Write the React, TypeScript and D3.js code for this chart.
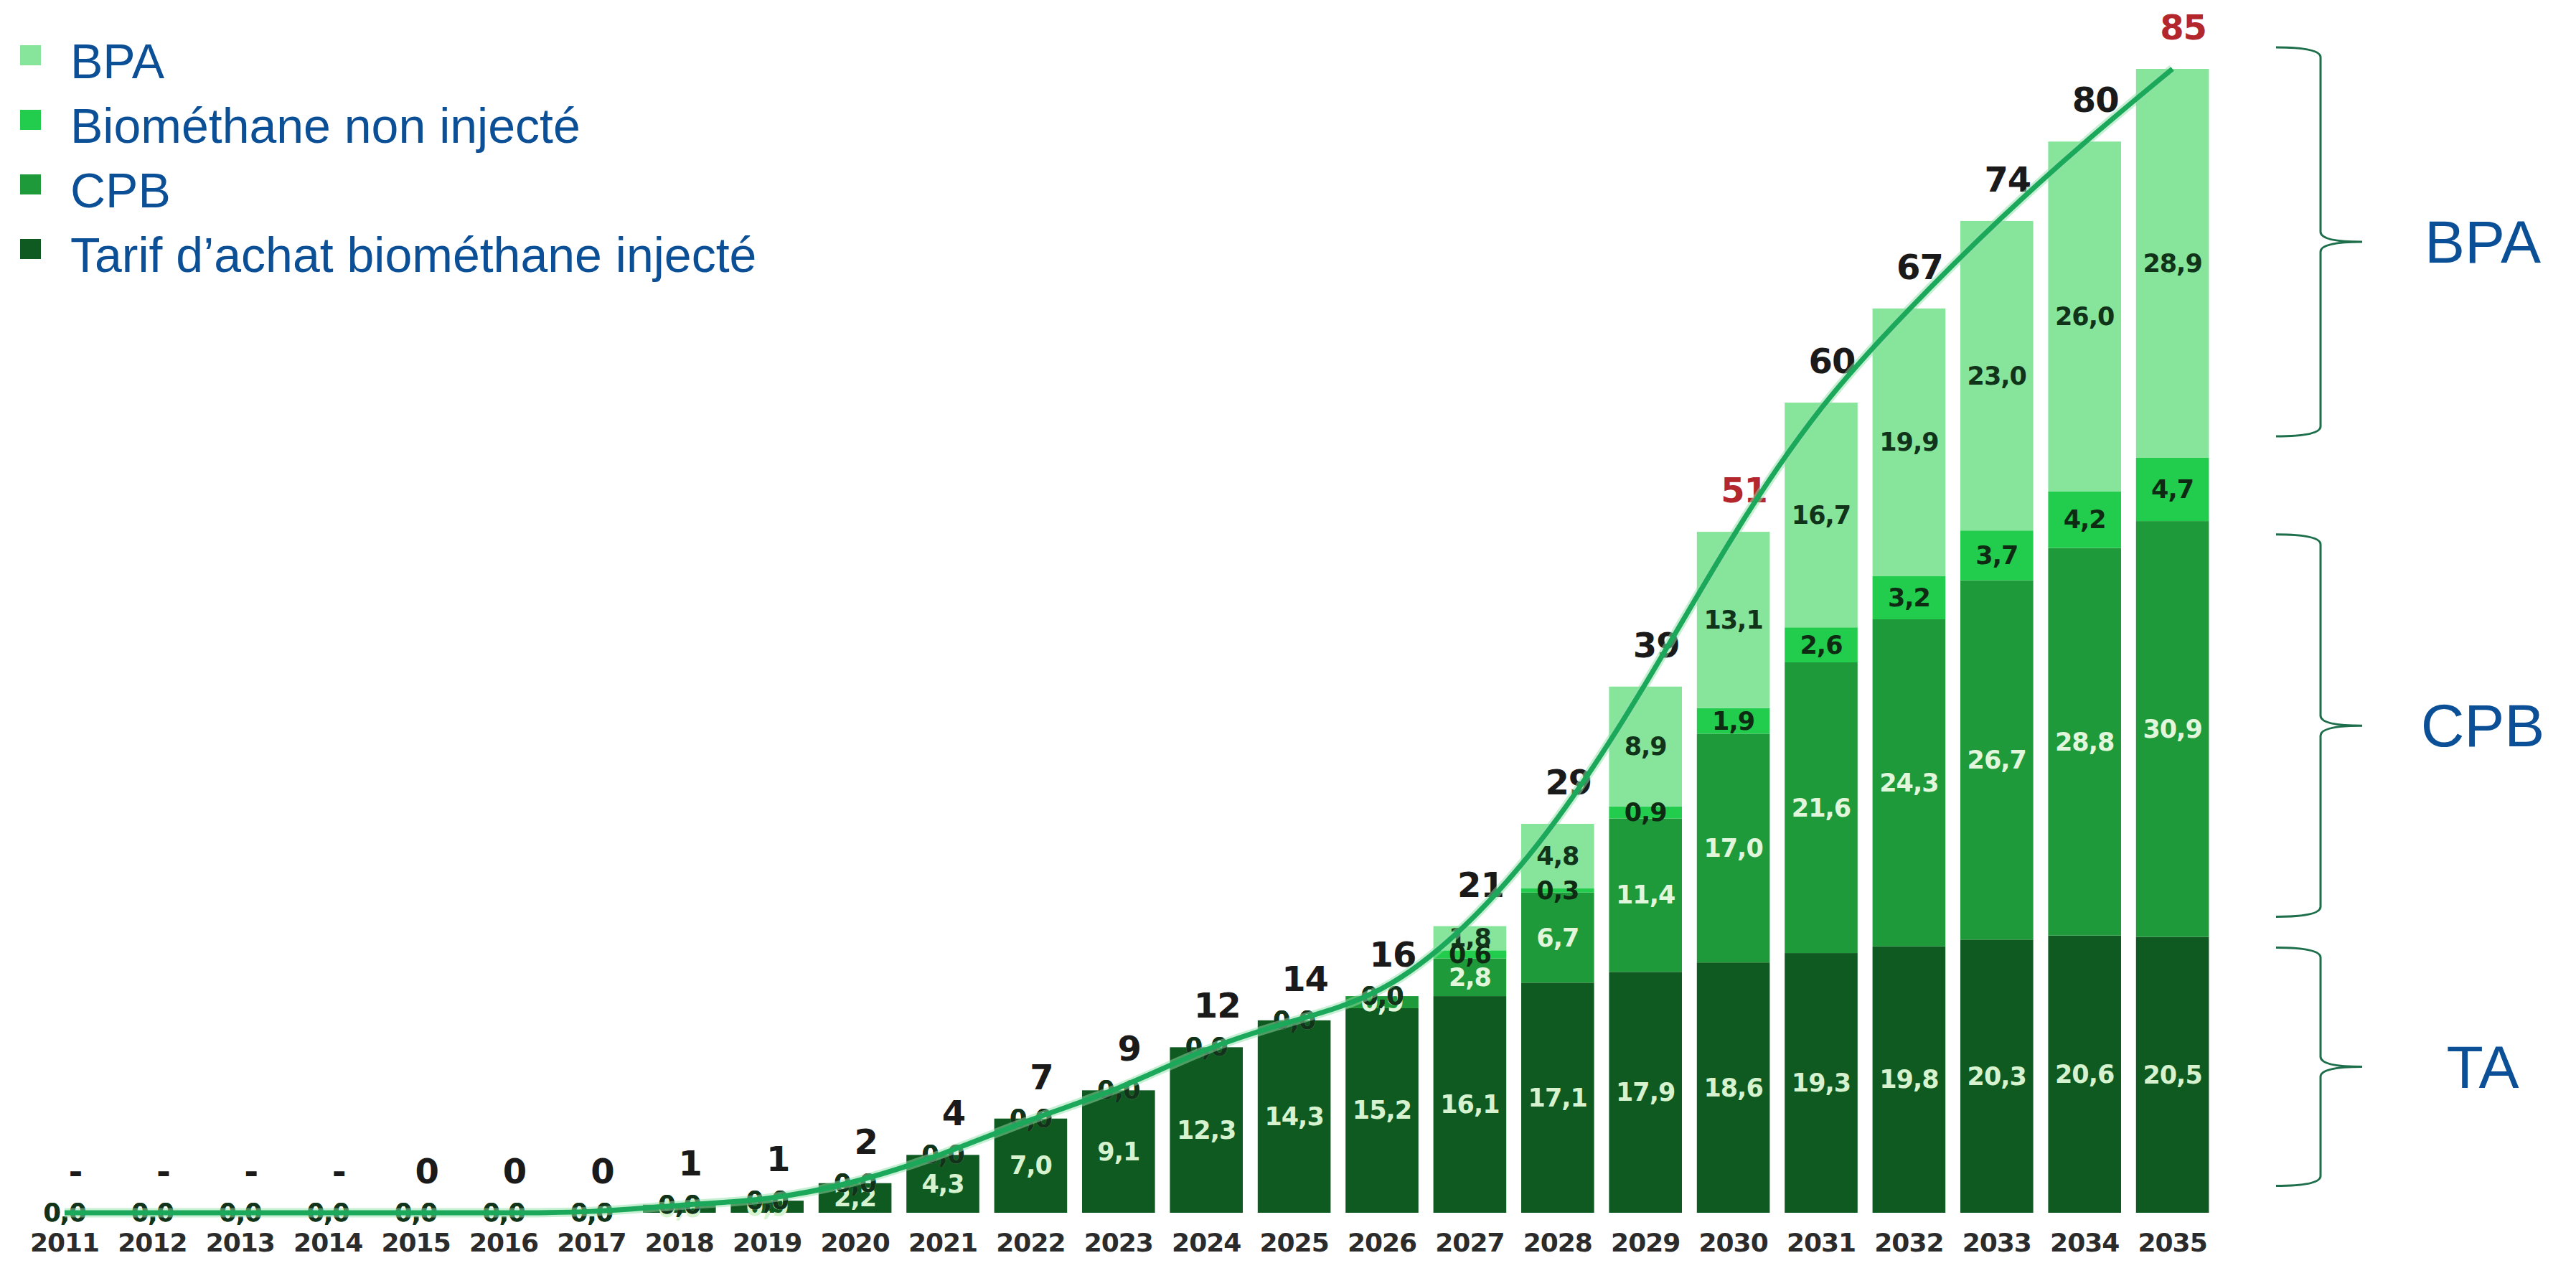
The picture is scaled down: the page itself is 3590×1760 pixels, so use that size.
import React, { useEffect, useRef } from 'react';
import * as d3 from 'd3';

// Values (TWh / an), 2011 -> 2035
const years = ['2011', '2012', '2013', '2014', '2015', '2016', '2017', '2018', '2019', '2020', '2021', '2022', '2023',
    '2024', '2025', '2026', '2027', '2028', '2029', '2030', '2031', '2032', '2033', '2034', '2035'];
const tarifAchat = [0, 0, 0, 0, 0, 0, 0, 0.6, 0.9, 2.2, 4.3, 7.0, 9.1, 12.3, 14.3, 15.2, 16.1, 17.1, 17.9, 18.6, 19.3, 19.8, 20.3, 20.6, 20.5];
const cpb = [0, 0, 0, 0, 0, 0, 0, 0, 0, 0, 0, 0, 0, 0, 0, 0.9, 2.8, 6.7, 11.4, 17.0, 21.6, 24.3, 26.7, 28.8, 30.9];
const bioNonInjecte = [0, 0, 0, 0, 0, 0, 0, 0, 0, 0, 0, 0, 0, 0, 0, 0, 0.6, 0.3, 0.9, 1.9, 2.6, 3.2, 3.7, 4.2, 4.7];
const bpa = [0, 0, 0, 0, 0, 0, 0, 0, 0, 0, 0, 0, 0, 0, 0, 0, 1.8, 4.8, 8.9, 13.1, 16.7, 19.9, 23.0, 26.0, 28.9];
const totalLabels = ['-', '-', '-', '-', '0', '0', '0', '1', '1', '2', '4', '7', '9', '12', '14', '16', '21', '29', '39',
    '51', '60', '67', '74', '80', '85'];
const redYears = ['2030', '2035'];

const seriesKeys = ['ta', 'cpb', 'bio', 'bpa'];
const seriesColors: Record<string, string> = { ta: '#0f5a20', cpb: '#1f9a3b', bio: '#22cc4c', bpa: '#86e59b' };
const seriesTextColors: Record<string, string> = { ta: '#d6f2cf', cpb: '#e2f6dc', bio: '#0e2a13', bpa: '#10331a' };

const legendLabels = ['BPA', 'Biométhane non injecté', 'CPB', "Tarif d\u2019achat biométhane injecté"];
const legendKeys = ['bpa', 'bio', 'cpb', 'ta'];

// Curly braces on the right, expressed in value units
const braceLabels = ['BPA', 'CPB', 'TA'];
const braceRanges: [number, number][] = [[57.7, 86.6], [22.0, 50.4], [2.0, 19.7]];

const W = 3590;
const H = 1760;

const App: React.FC = () => {
    const ref = useRef<SVGSVGElement>(null);

    useEffect(() => {
        document.body.style.margin = '0';
        if (!ref.current) return;
        const svg = d3.select(ref.current);
        svg.selectAll('*').remove();

        const rows = years.map((year, i) => ({
            year,
            ta: tarifAchat[i],
            cpb: cpb[i],
            bio: bioNonInjecte[i],
            bpa: bpa[i],
            total: tarifAchat[i] + cpb[i] + bioNonInjecte[i] + bpa[i],
            label: totalLabels[i],
        }));

        const x = d3.scaleBand<string>()
            .domain(years)
            .range([28.8, 3088.8])
            .paddingInner(0.17)
            .paddingOuter(0.085);
        const y = d3.scaleLinear().domain([0, 85]).range([1690, 96]);
        const cx = (d: string) => (x(d) || 0) + x.bandwidth() / 2;

        const fmt = (v: number) => d3.format('.1f')(v).replace('.', ',');
        const numFont = '"DejaVu Sans", Verdana, sans-serif';
        const textFont = '"Liberation Sans", Arial, sans-serif';

        const stack = d3.stack<any>().keys(seriesKeys);
        const stacked = stack(rows);

        // Bars
        const layers = svg.append('g')
            .selectAll('g')
            .data(stacked)
            .enter()
            .append('g')
            .attr('fill', d => seriesColors[d.key]);

        layers.selectAll('rect')
            .data(d => d)
            .enter()
            .append('rect')
            .attr('x', d => x(d.data.year) || 0)
            .attr('y', d => y(d[1]))
            .attr('width', x.bandwidth())
            .attr('height', d => y(d[0]) - y(d[1]));

        // Segment value labels
        stacked.forEach(layer => {
            svg.append('g')
                .selectAll('text')
                .data(layer)
                .enter()
                .append('text')
                .attr('x', d => cx(d.data.year))
                .attr('y', d => (y(d[0]) + y(d[1])) / 2)
                .attr('text-anchor', 'middle')
                .attr('dominant-baseline', 'central')
                .attr('font-family', numFont)
                .attr('font-weight', 'bold')
                .attr('font-size', 35)
                .attr('letter-spacing', -1)
                .attr('fill', seriesTextColors[layer.key])
                .text(d => fmt(d[1] - d[0]));
        });

        // Totals above bars
        svg.append('g')
            .selectAll('text')
            .data(rows)
            .enter()
            .append('text')
            .attr('x', d => cx(d.year) + 15)
            .attr('y', d => y(d.total) - 58)
            .attr('text-anchor', 'middle')
            .attr('dominant-baseline', 'central')
            .attr('font-family', numFont)
            .attr('font-weight', 'bold')
            .attr('font-size', 48)
            .attr('letter-spacing', -1)
            .attr('fill', d => redYears.includes(d.year) ? '#b2262c' : '#1a1a1a')
            .text(d => d.label);

        // Total line (smoothed)
        const line = d3.line<any>()
            .x(d => cx(d.year))
            .y(d => y(d.total))
            .curve(d3.curveBasis);

        svg.append('path')
            .datum(rows)
            .attr('d', line)
            .attr('fill', 'none')
            .attr('stroke', '#8fe0a8')
            .attr('stroke-opacity', 0.5)
            .attr('stroke-width', 13);
        svg.append('path')
            .datum(rows)
            .attr('d', line)
            .attr('fill', 'none')
            .attr('stroke', '#1ba85a')
            .attr('stroke-width', 7)
            .attr('stroke-linejoin', 'round');

        // Year axis labels
        svg.append('g')
            .selectAll('text')
            .data(years)
            .enter()
            .append('text')
            .attr('x', d => cx(d))
            .attr('y', 1744)
            .attr('text-anchor', 'middle')
            .attr('font-family', numFont)
            .attr('font-weight', 'bold')
            .attr('font-size', 36)
            .attr('letter-spacing', -1)
            .attr('fill', '#2b2b2b')
            .text(d => d);

        // Legend
        const legend = svg.append('g');
        legendLabels.forEach((label, i) => {
            const base = 109 + i * 90;
            legend.append('rect')
                .attr('x', 28)
                .attr('y', base - 46)
                .attr('width', 29)
                .attr('height', 28)
                .attr('fill', seriesColors[legendKeys[i]]);
            legend.append('text')
                .attr('x', 98)
                .attr('y', base)
                .attr('font-family', textFont)
                .attr('font-size', 68)
                .attr('fill', '#0b4f96')
                .text(label);
        });

        // Braces
        const xEnd = 3172;
        const xVert = 3234;
        const xTip = 3292;
        const r = 14;
        braceRanges.forEach((range, i) => {
            const yTop = y(range[1]);
            const yBot = y(range[0]);
            const yMid = (yTop + yBot) / 2;
            const p = d3.path();
            p.moveTo(xEnd, yTop);
            p.quadraticCurveTo(xVert, yTop, xVert, yTop + r);
            p.lineTo(xVert, yMid - r);
            p.quadraticCurveTo(xVert, yMid, xTip, yMid);
            p.moveTo(xTip, yMid);
            p.quadraticCurveTo(xVert, yMid, xVert, yMid + r);
            p.lineTo(xVert, yBot - r);
            p.quadraticCurveTo(xVert, yBot, xEnd, yBot);
            svg.append('path')
                .attr('d', p.toString())
                .attr('fill', 'none')
                .attr('stroke', '#1d6e4a')
                .attr('stroke-width', 3);
            svg.append('text')
                .attr('x', 3460)
                .attr('y', yMid)
                .attr('text-anchor', 'middle')
                .attr('dominant-baseline', 'central')
                .attr('font-family', textFont)
                .attr('font-size', 84)
                .attr('fill', '#0b4f96')
                .text(braceLabels[i]);
        });
    }, []);

    return (
        <svg ref={ref} width={W} height={H} style={{ display: 'block', background: '#ffffff' }} />
    );
};

export default App;
